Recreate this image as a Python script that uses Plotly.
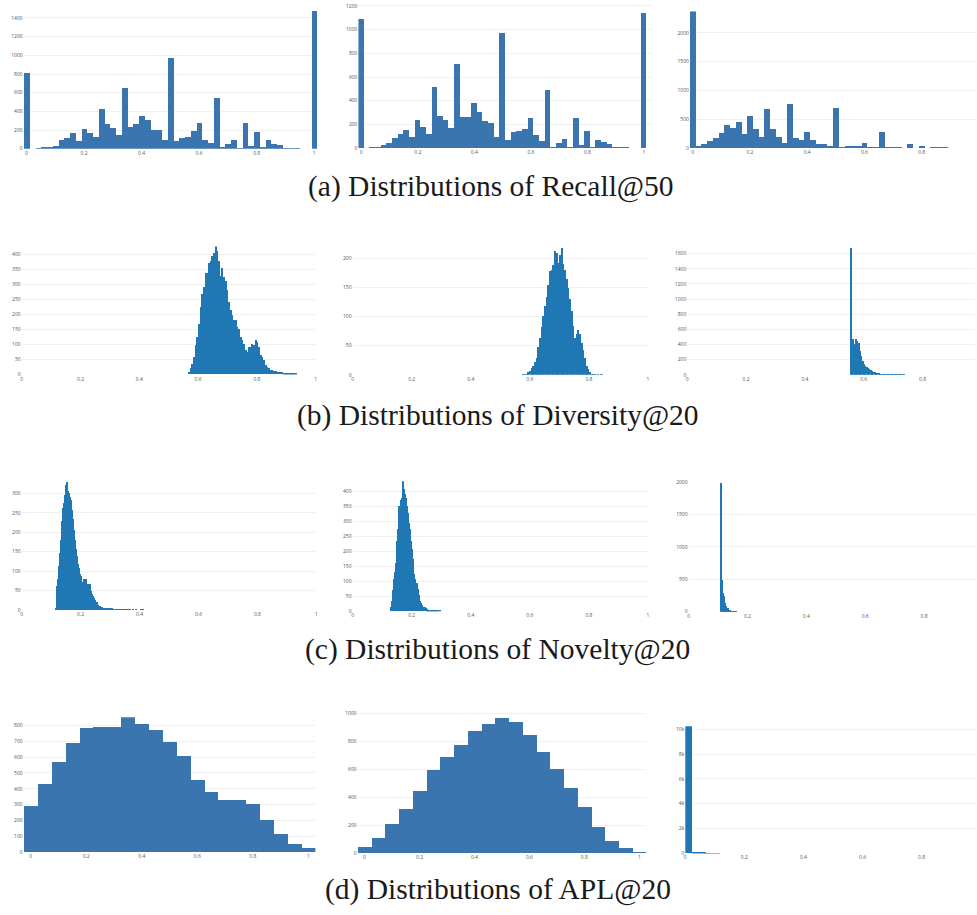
import numpy as np
import plotly.graph_objects as go

W, H = 977, 915

# ---------------- data ----------------
# Recall@50 : bins of width 0.02 centred on 0, 0.02, ... 1.0
recall_bin_w = 0.02
recall_a = [810, 0, 5, 10, 18, 35, 92, 113, 170, 82, 213, 170, 128, 429, 270, 227, 152, 652, 230, 270,
            351, 312, 198, 202, 96, 967, 85, 117, 131, 188, 280, 99, 60, 546, 18, 46, 99, 3, 280, 32,
            177, 18, 96, 50, 42, 8, 4, 4, 0, 0, 1471]
recall_b = [1094, 0, 5, 8, 25, 45, 90, 123, 154, 95, 240, 179, 123, 517, 274, 240, 173, 710, 263, 268,
            383, 310, 229, 210, 92, 976, 70, 134, 148, 165, 255, 109, 59, 490, 14, 42, 81, 4, 255, 28,
            148, 8, 73, 50, 39, 14, 4, 3, 0, 0, 1144]
recall_c = [2362, 17, 63, 115, 161, 259, 391, 339, 448, 236, 546, 322, 190, 667, 322, 190, 86, 764, 172, 138,
            264, 138, 57, 57, 11, 695, 2, 23, 11, 34, 80, 5, 5, 270, 3, 3, 8, 0, 69, 0,
            29, 0, 8, 4, 4]

# Diversity@20 : (first bin centre, bin width, counts)
div_a_start, div_a_w = 0.5633, 0.00566
div_a = [0, 8, 19, 35, 57, 96, 123, 167, 222, 266, 288, 335, 337, 370, 376, 392, 403, 424, 409, 376,
         326, 352, 321, 310, 279, 238, 211, 195, 178, 178, 156, 150, 123, 112, 101, 79, 74, 90, 90, 99,
         96, 112, 107, 90, 63, 57, 46, 30, 24, 19, 15, 13, 11, 9, 8, 7, 7, 8, 4, 5,
         3, 4, 2, 2, 1, 1]
div_b_start, div_b_w = 0.5777, 0.00563
div_b = [1, 2, 3, 5, 7, 12, 16, 23, 30, 48, 64, 82, 101, 118, 135, 155, 178, 181, 189, 213,
         209, 192, 206, 219, 190, 180, 165, 150, 130, 110, 85, 64, 70, 78, 70, 56, 44, 30, 16, 10,
         6, 3, 1, 1, 0, 1, 0, 1]
div_c_start, div_c_w = 0.5577, 0.00452
div_c = [1683, 254, 472, 407, 481, 450, 428, 319, 254, 188, 144, 122, 109, 92, 79, 66, 52, 44, 38, 32,
         26, 22, 18, 15, 13, 11, 9, 8, 7, 6, 5, 4, 4, 3, 3, 2, 2, 1, 1, 1, 3]

# Novelty@20
nov_a_start, nov_a_w = 0.1140, 0.003386
nov_a = [3, 62, 79, 113, 147, 181, 228, 262, 275, 296, 322, 330, 305, 301, 292, 284, 258, 233, 207, 181,
         156, 139, 118, 109, 92, 88, 71, 62, 79, 66, 79, 62, 66, 58, 66, 49, 41, 37, 32, 26,
         21, 18, 20, 13, 11, 9, 7, 8, 6, 6, 5, 4, 5, 4, 3, 3, 3, 3,
         2, 2, 1, 2, 1, 1, 2, 1, 0, 1, 1, 0, 1, 1, 0, 1, 0, 1, 0, 0, 1, 0, 0, 1, 0, 0, 0, 0, 1, 0, 1]
nov_b_start, nov_b_w = 0.1273, 0.00338
nov_b = [13, 35, 69, 107, 129, 162, 234, 273, 350, 339, 372, 378, 433, 406, 389, 378, 350, 328, 295, 273,
         234, 207, 173, 124, 107, 91, 94, 74, 52, 32, 28, 21, 15, 11, 13, 9, 6, 4, 4, 3,
         3, 2, 2, 2, 1, 1, 1, 1, 0, 1]
nov_c_start, nov_c_w = 0.1096, 0.00226
nov_c = [1990, 490, 347, 296, 245, 194, 143, 102, 82, 70, 61, 41, 30, 26, 15, 12, 10, 8, 5, 5,
         5, 4, 3, 3, 2, 1]

# APL@20 : bins of width 0.05 centred on 0, 0.05, ... 1.0
apl_bin_w = 0.05
apl_a = [292, 429, 567, 685, 779, 790, 787, 848, 806, 767, 692, 606, 456, 381, 327, 329, 304, 204, 117, 50, 23]
apl_b = [47, 109, 211, 320, 448, 597, 692, 780, 877, 927, 972, 943, 846, 730, 602, 467, 332, 187, 92, 43, 9]
apl_c_start, apl_c_w = 0.012, 0.024
apl_c = [10213, 45, 30, 20, 12]

captions = ["(a) Distributions of Recall@50", "(b) Distributions of Diversity@20",
            "(c) Distributions of Novelty@20", "(d) Distributions of APL@20"]
k_ticks = [0, 2000, 4000, 6000, 8000, 10000]
k_labels = ["0", "2k", "4k", "6k", "8k", "10k"]

# ---------------- styling / geometry ----------------
DARK = "#3a75b0"
BLUE = "#1f77b4"


def centers(start, w, n):
    return [start + w * i for i in range(n)]


# each panel: (x, y, width, color, pixel box (left, right, top, bottom), xrange, yrange, ydtick)
panels = [
    (centers(0, recall_bin_w, len(recall_a)), recall_a, recall_bin_w, DARK,
     (22.7, 316.7, 8.0, 146.7), [-0.01, 1.01], [0, 1475], 200),
    (centers(0, recall_bin_w, len(recall_b)), recall_b, recall_bin_w, DARK,
     (358.2, 652.8, 1.8, 146.0), [-0.01, 1.03], [0, 1210], 200),
    (centers(0, recall_bin_w, len(recall_c)), recall_c, recall_bin_w, DARK,
     (690.3, 977.0, 8.5, 146.0), [-0.01, 0.99], [0, 2370], 500),
    (centers(div_a_start, div_a_w, len(div_a)), div_a, div_a_w, BLUE,
     (20.7, 315.4, 245.1, 374.0), [0, 1], [0, 425], 50),
    (centers(div_b_start, div_b_w, len(div_b)), div_b, div_b_w, BLUE,
     (352.3, 648.3, 245.2, 374.3), [0, 1], [0, 220], 50),
    (centers(div_c_start, div_c_w, len(div_c)), div_c, div_c_w, BLUE,
     (687.7, 976.4, 245.4, 374.3), [0, 0.98], [0, 1690], 200),
    (centers(nov_a_start, nov_a_w, len(nov_a)), nov_a, nov_a_w, BLUE,
     (20.7, 316.0, 481.2, 611.0), [0, 1], [0, 332], 50),
    (centers(nov_b_start, nov_b_w, len(nov_b)), nov_b, nov_b_w, BLUE,
     (352.3, 648.3, 481.4, 612.3), [0, 1], [0, 434], 50),
    (centers(nov_c_start, nov_c_w, len(nov_c)), nov_c, nov_c_w, BLUE,
     (689.0, 976.6, 481.7, 612.7), [0, 0.975], [0, 2005], 500),
    (centers(0, apl_bin_w, len(apl_a)), apl_a, apl_bin_w, DARK,
     (22.7, 315.0, 719.0, 855.0), [-0.025, 1.025], [0, 850], 100),
    (centers(0, apl_bin_w, len(apl_b)), apl_b, apl_bin_w, DARK,
     (357.4, 646.5, 712.2, 855.7), [-0.025, 1.025], [0, 1020], 200),
    (centers(apl_c_start, apl_c_w, len(apl_c)), apl_c, apl_c_w, BLUE,
     (685.7, 977.0, 727.9, 856.0), [0, 0.984], [0, 10250], None),
]

caption_pos = [(491.5, 185), (498.5, 415), (498, 651), (498.5, 892)]

fig = go.Figure()
tickfont = dict(family="Open Sans, Arial, sans-serif", size=5, color="#555")

for i, (xs, ys, w, col, box, xr, yr, ydt) in enumerate(panels, start=1):
    sfx = "" if i == 1 else str(i)
    fig.add_trace(go.Bar(x=xs, y=ys, width=w, marker=dict(color=col, line=dict(width=0)),
                         xaxis="x" + sfx, yaxis="y" + sfx, showlegend=False))
    left, right, top, bottom = box
    xa = dict(domain=[left / W, min(right / W, 1)], range=xr, tick0=0, dtick=0.2,
              showgrid=False, zeroline=False, showline=False, ticks="",
              tickfont=tickfont, anchor="y" + sfx, fixedrange=True)
    ya = dict(domain=[1 - bottom / H, 1 - top / H], range=yr,
              showgrid=True, gridcolor="#f0f0f0", gridwidth=1, zeroline=False,
              showline=False, ticks="", tickfont=tickfont, anchor="x" + sfx, fixedrange=True)
    if ydt is None:
        ya.update(tickmode="array", tickvals=k_ticks, ticktext=k_labels)
    else:
        ya.update(tick0=0, dtick=ydt)
    fig.layout["xaxis" + sfx] = xa
    fig.layout["yaxis" + sfx] = ya

for text, (cx, cy) in zip(captions, caption_pos):
    fig.add_annotation(text=text, x=cx / W, y=1 - cy / H, xref="paper", yref="paper",
                       xanchor="center", yanchor="middle", showarrow=False,
                       font=dict(family="Liberation Serif, Times New Roman, serif", size=29.5, color="#1a1a1a"))

fig.update_layout(width=W, height=H, margin=dict(l=0, r=0, t=0, b=0),
                  paper_bgcolor="white", plot_bgcolor="white", bargap=0)

fig.write_html("out.html")
